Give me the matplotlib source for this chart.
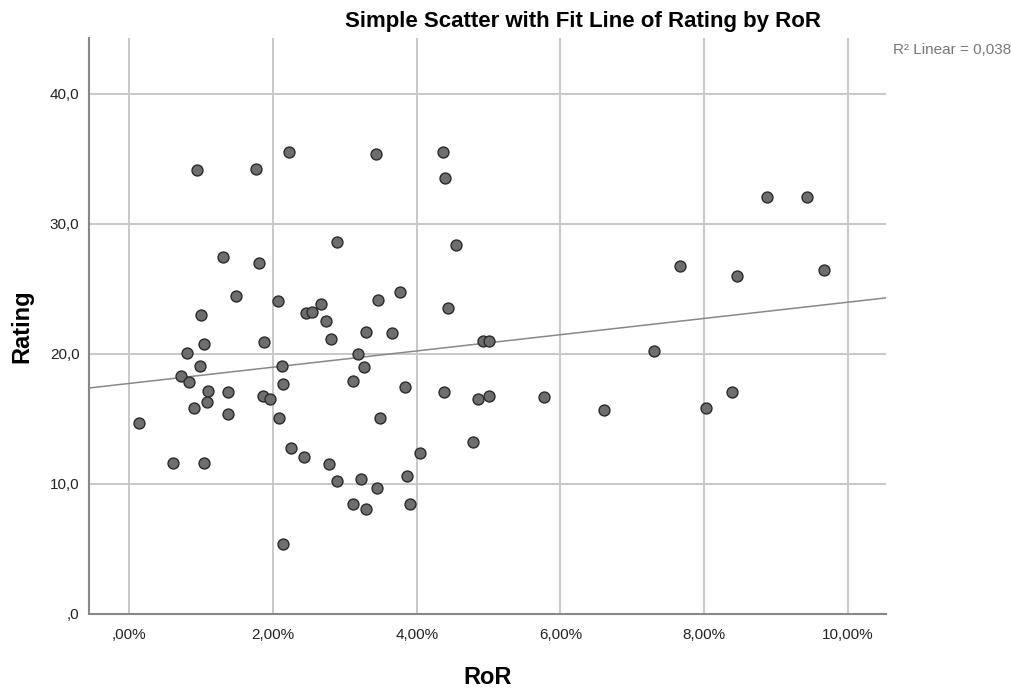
import numpy as np
import matplotlib
matplotlib.use("Agg")
import matplotlib.pyplot as plt
from matplotlib.ticker import FuncFormatter

plt.rcParams['font.family'] = ['Liberation Sans', 'DejaVu Sans']

# RoR in percent, Rating
ror = [0.135, 0.61, 1.04, 1.04, 1.875, 0.81, 0.98, 2.13, 0.715, 0.83,
       2.135, 1.095, 1.38, 1.08, 0.90, 1.857, 1.963, 1.37, 2.08, 2.25,
       2.135, 0.942, 1.764, 2.22, 1.30, 1.80, 1.485, 2.07, 0.998, 3.43,
       2.895, 2.464, 2.543, 2.668, 2.742, 3.466, 3.77, 3.295, 3.653, 2.808,
       3.188, 3.27, 3.118, 3.842, 3.49, 4.047, 2.427, 2.784, 3.87, 2.891,
       3.23, 3.444, 3.11, 3.29, 3.91, 4.367, 4.395, 4.548, 4.43, 4.92,
       5.007, 4.385, 4.85, 5.01, 5.777, 4.784, 8.88, 9.43, 7.66, 8.45,
       9.67, 7.3, 6.60, 8.03, 8.385]
rating = [14.7, 11.6, 11.6, 20.8, 20.95, 20.05, 19.08, 19.08, 18.28, 17.87,
          17.69, 17.18, 17.08, 16.28, 15.87, 16.77, 16.56, 15.38, 15.08, 12.8,
          5.41, 34.15, 34.25, 35.54, 27.46, 26.97, 24.48, 24.08, 22.97, 35.35,
          28.64, 23.18, 23.25, 23.87, 22.56, 24.18, 24.74, 21.69, 21.58, 21.18,
          19.97, 18.97, 17.89, 17.48, 15.1, 12.38, 12.1, 11.51, 10.59, 10.2,
          10.38, 9.69, 8.48, 8.1, 8.48, 35.54, 33.54, 28.35, 23.56, 20.97,
          20.97, 17.08, 16.56, 16.77, 16.69, 13.2, 32.05, 32.05, 26.74, 25.97,
          26.48, 20.25, 15.69, 15.87, 17.08]
x_ticks = [0, 2, 4, 6, 8, 10]
y_ticks = [0, 10, 20, 30, 40]

x = np.array(ror)
y = np.array(rating)
slope, intercept = np.polyfit(x, y, 1)
r2 = np.corrcoef(x, y)[0, 1] ** 2

fig = plt.figure(figsize=(10.12, 6.88), dpi=100)
ax = fig.add_axes([0.0882, 0.1076, 0.7873, 0.8372])

xmin, xmax = -0.557, 10.53
ax.set_xlim(xmin, xmax)
ax.set_ylim(0, 44.3)

ax.set_xticks(x_ticks)
ax.set_yticks(y_ticks)
ax.grid(True, color='#c8c8c8', linewidth=1.4)
ax.set_axisbelow(True)

def fmt_x(v, pos):
    s = ('%.2f%%' % v).replace('.', ',')
    return s[1:] if s.startswith('0') else s

def fmt_y(v, pos):
    s = ('%.1f' % v).replace('.', ',')
    return s[1:] if s.startswith('0') else s

ax.xaxis.set_major_formatter(FuncFormatter(fmt_x))
ax.yaxis.set_major_formatter(FuncFormatter(fmt_y))
ax.tick_params(length=0, labelsize=11, colors='#222222')
ax.tick_params(axis='x', pad=10)
ax.tick_params(axis='y', pad=7)

for side in ['top', 'right']:
    ax.spines[side].set_visible(False)
for side in ['left', 'bottom']:
    ax.spines[side].set_color('#888888')
    ax.spines[side].set_linewidth(1.5)

xs = np.array([xmin, xmax])
ax.plot(xs, intercept + slope * xs, color='#888888', linewidth=1.1, zorder=2)

ax.scatter(x, y, s=62, facecolor='#6e6e6e', edgecolor='#2a2a2a',
           linewidth=1.0, zorder=3)

ax.set_xlabel('RoR', fontsize=17, fontweight='bold')
ax.set_ylabel('Rating', fontsize=17, fontweight='bold')
ax.xaxis.set_label_coords(0.5, -0.09)
ax.yaxis.set_label_coords(-0.0707, 0.5)

fig.text(0.576, 0.969, 'Simple Scatter with Fit Line of Rating by RoR',
         ha='center', va='center', fontsize=16, fontweight='bold')
fig.text(0.882, 0.927, 'R\u00b2 Linear = ' + ('%.3f' % r2).replace('.', ','),
         ha='left', va='center', fontsize=11, color='#777777')

fig.savefig('out.png', dpi=100)
